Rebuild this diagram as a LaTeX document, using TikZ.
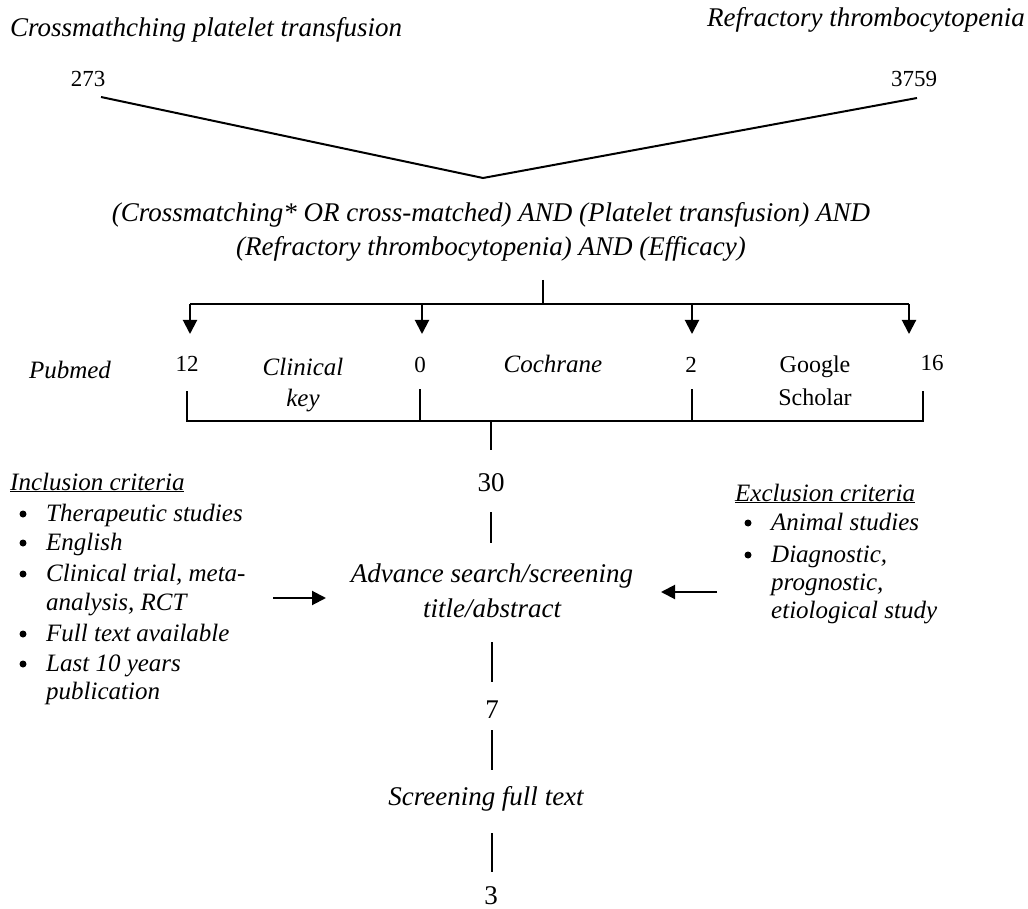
\documentclass[tikz,border=0pt]{standalone}
\usepackage{fontspec}
\setmainfont{Liberation Serif}
\usetikzlibrary{arrows.meta}
\begin{document}
\begin{tikzpicture}[x=1pt,y=-1pt,
  ln/.style={line width=2pt},
  arr/.style={line width=2pt,-{Triangle[length=14pt,width=14pt]}},
  big/.style={font=\fontsize{27}{32}\selectfont\itshape,inner sep=0pt},
  mid/.style={font=\fontsize{25}{30}\selectfont\itshape,inner sep=0pt},
  num/.style={font=\fontsize{23}{28}\selectfont,inner sep=0pt},
  cnum/.style={font=\fontsize{27}{30}\selectfont,inner sep=0pt},
  lst/.style={font=\fontsize{25}{30}\selectfont\itshape,inner sep=0pt,anchor=base west},
  bul/.style={circle,fill=black,inner sep=0pt,minimum size=7pt}]
\useasboundingbox (0,0) rectangle (1028,909);
% titles
\node[big,anchor=base west] (t1) at (10,37) {Crossmathching platelet transfusion};
\node[big,anchor=base east] (t2) at (1025,27) {Refractory thrombocytopenia};
\node[num,anchor=base] (n273) at (88,87) {273};
\node[num,anchor=base] (n3759) at (914,87) {3759};
\coordinate (l1) at (101,97);
\coordinate (l2) at (917,98);
\coordinate (v) at (483,178);
\draw[ln] (l1) -- (v) -- (l2);
% query
\node[big,anchor=base] (q1) at (491,222) {(Crossmatching* OR cross-matched) AND (Platelet transfusion) AND};
\node[big,anchor=base] (q2) at (491,256) {(Refractory thrombocytopenia) AND (Efficacy)};
% distribution bracket
\coordinate (qt) at (543,280);
\coordinate (qb) at (543,304);
\coordinate (h1) at (190,304);
\coordinate (h2) at (422,304);
\coordinate (h3) at (692,304);
\coordinate (h4) at (909,304);
\coordinate (a1) at (190,334);
\coordinate (a2) at (422,334);
\coordinate (a3) at (692,334);
\coordinate (a4) at (909,334);
\draw[ln] (qt) -- (qb);
\draw[ln] (h1) -- (h4);
\draw[arr] (h1) -- (a1);
\draw[arr] (h2) -- (a2);
\draw[arr] (h3) -- (a3);
\draw[arr] (h4) -- (a4);
% databases
\node[mid,anchor=base] (pub) at (70,378) {Pubmed};
\node[num,anchor=base] (n12) at (187,371) {12};
\node[mid,anchor=base] (ck1) at (303,375) {Clinical};
\node[mid,anchor=base] (ck2) at (303,406) {key};
\node[num,anchor=base] (n0) at (420,372) {0};
\node[mid,anchor=base] (coc) at (553,372) {Cochrane};
\node[num,anchor=base] (n2) at (691,372) {2};
\node[font=\fontsize{24}{30}\selectfont,inner sep=0pt,anchor=base] (gs1) at (815,372) {Google};
\node[font=\fontsize{24}{30}\selectfont,inner sep=0pt,anchor=base] (gs2) at (815,405) {Scholar};
\node[num,anchor=base] (n16) at (932,370) {16};
% collecting bracket
\coordinate (b1t) at (187,391);
\coordinate (b2t) at (420,389);
\coordinate (b3t) at (692,389);
\coordinate (b4t) at (923,391);
\coordinate (b1) at (187,421);
\coordinate (b2) at (420,421);
\coordinate (b3) at (692,421);
\coordinate (b4) at (923,421);
\coordinate (bc) at (491,421);
\coordinate (bcd) at (491,450);
\draw[ln] (b1t) -- (b1) -- (b4) -- (b4t);
\draw[ln] (b2t) -- (b2);
\draw[ln] (b3t) -- (b3);
\draw[ln] (bc) -- (bcd);
% flow
\node[cnum,anchor=base] (n30) at (491,491) {30};
\coordinate (s1) at (491,512);
\coordinate (s2) at (491,543);
\draw[ln] (s1) -- (s2);
\node[big,anchor=base] (adv1) at (492,582) {Advance search/screening};
\node[big,anchor=base] (adv2) at (492,617) {title/abstract};
\coordinate (s3) at (492,642);
\coordinate (s4) at (492,682);
\draw[ln] (s3) -- (s4);
\node[cnum,anchor=base] (n7) at (492,718) {7};
\coordinate (s5) at (492,730);
\coordinate (s6) at (492,770);
\draw[ln] (s5) -- (s6);
\node[big,anchor=base] (sft) at (486,805) {Screening full text};
\coordinate (s7) at (492,833);
\coordinate (s8) at (492,872);
\draw[ln] (s7) -- (s8);
\node[cnum,anchor=base] (n3) at (491,904) {3};
% inclusion
\node[lst] (inc) at (10,490) {\underline{Inclusion criteria}};
\node[bul] (ib1) at (23,514) {};
\node[lst] (i1) at (46,521) {Therapeutic studies};
\node[bul] (ib2) at (23,543) {};
\node[lst] (i2) at (46,550) {English};
\node[bul] (ib3) at (23,574) {};
\node[lst] (i3) at (46,581) {Clinical trial, meta-};
\node[lst] (i3b) at (46,610) {analysis, RCT};
\node[bul] (ib4) at (23,634) {};
\node[lst] (i4) at (46,641) {Full text available};
\node[bul] (ib5) at (23,664) {};
\node[lst] (i5) at (46,671) {Last 10 years};
\node[lst] (i5b) at (46,699) {publication};
% exclusion
\node[lst] (exc) at (735,501) {\underline{Exclusion criteria}};
\node[bul] (eb1) at (748,523) {};
\node[lst] (e1) at (771,530) {Animal studies};
\node[bul] (eb2) at (748,555) {};
\node[lst] (e2) at (771,562) {Diagnostic,};
\node[lst] (e2b) at (771,590) {prognostic,};
\node[lst] (e2c) at (771,618) {etiological study};
% side arrows
\coordinate (ia) at (273,598);
\coordinate (ib) at (326,598);
\coordinate (ea) at (717,592);
\coordinate (eb) at (661,592);
\draw[arr] (ia) -- (ib);
\draw[arr] (ea) -- (eb);
\end{tikzpicture}
\end{document}
